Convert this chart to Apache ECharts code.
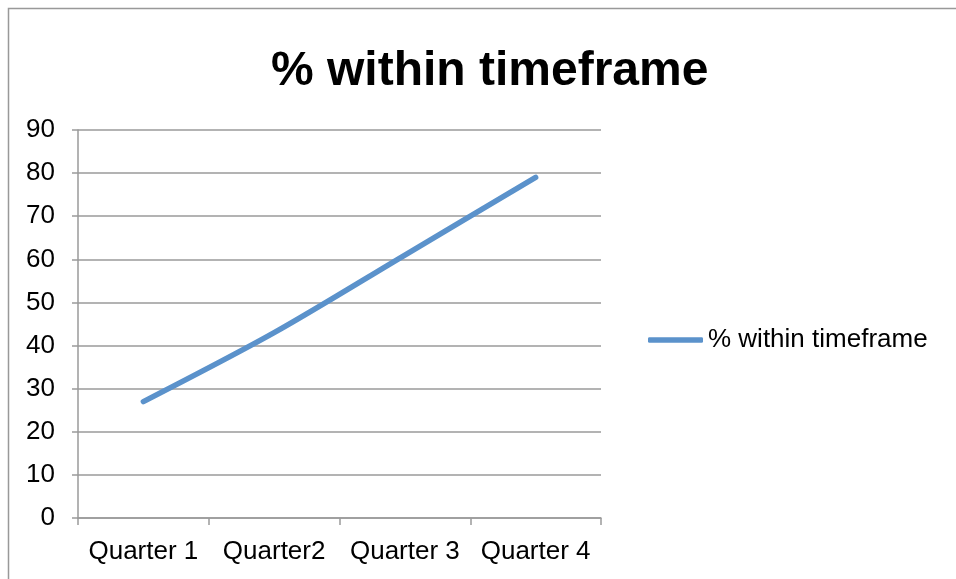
<!DOCTYPE html>
<html>
<head>
<meta charset="utf-8">
<script src="https://cdn.jsdelivr.net/npm/echarts@6/dist/echarts.min.js"></script>
<style>
  html, body { margin: 0; padding: 0; background: #fff; }
  #chart { width: 956px; height: 579px; }
</style>
</head>
<body>
<div id="chart"></div>
<script>
// Quarterly share of items completed within the target timeframe
const categories = ['Quarter 1', 'Quarter2', 'Quarter 3', 'Quarter 4'];
const withinTimeframe = [27, 43, 61, 79];
const seriesName = '% within timeframe';
const yMin = 0, yMax = 90, yStep = 10;

const font = '"Liberation Sans", Arial, sans-serif';
const gray = '#9a9a9a';
const blue = '#5b92cb';

const chart = echarts.init(document.getElementById('chart'), null, { renderer: 'canvas' });
chart.setOption({
  backgroundColor: '#fff',
  animation: false,
  textStyle: { fontFamily: font },
  graphic: [{
    type: 'rect',
    shape: { x: 8.5, y: 8.5, width: 1000, height: 1000 },
    style: { fill: 'none', stroke: '#999', lineWidth: 1.5 },
    silent: true
  }],
  title: {
    text: seriesName,
    left: 266,
    top: 43,
    textStyle: { fontFamily: font, fontSize: 48, fontWeight: 'bold', color: '#000' }
  },
  legend: {
    data: [{ name: seriesName, icon: 'roundRect' }],
    orient: 'vertical',
    left: 648,
    top: 327,
    padding: 0,
    itemWidth: 55,
    itemHeight: 5.5,
    itemGap: 5,
    textStyle: { fontFamily: font, fontSize: 26, color: '#000', padding: [6, 0, 0, 0] }
  },
  grid: { left: 78, right: 355, top: 130, bottom: 61, containLabel: false },
  xAxis: {
    type: 'category',
    data: categories,
    boundaryGap: true,
    axisLine: { show: true, lineStyle: { color: gray, width: 1.5 } },
    axisTick: { show: true, interval: 0, length: 7, lineStyle: { color: gray, width: 1.5 } },
    axisLabel: { interval: 0, fontFamily: font, fontSize: 26, color: '#000', margin: 21 }
  },
  yAxis: {
    type: 'value',
    min: yMin,
    max: yMax,
    interval: yStep,
    axisLine: { show: true, lineStyle: { color: gray, width: 1.5 } },
    axisTick: { show: true, length: 6, lineStyle: { color: gray, width: 1.5 } },
    axisLabel: { fontFamily: font, fontSize: 26, color: '#000', margin: 23, padding: [8, 0, 0, 0] },
    splitLine: { show: true, lineStyle: { color: gray, width: 1.5 } }
  },
  series: [{
    name: seriesName,
    type: 'line',
    data: withinTimeframe,
    smooth: 0.3,
    symbol: 'none',
    color: blue,
    lineStyle: { color: blue, width: 5.5, cap: 'round' }
  }]
});
</script>
</body>
</html>
